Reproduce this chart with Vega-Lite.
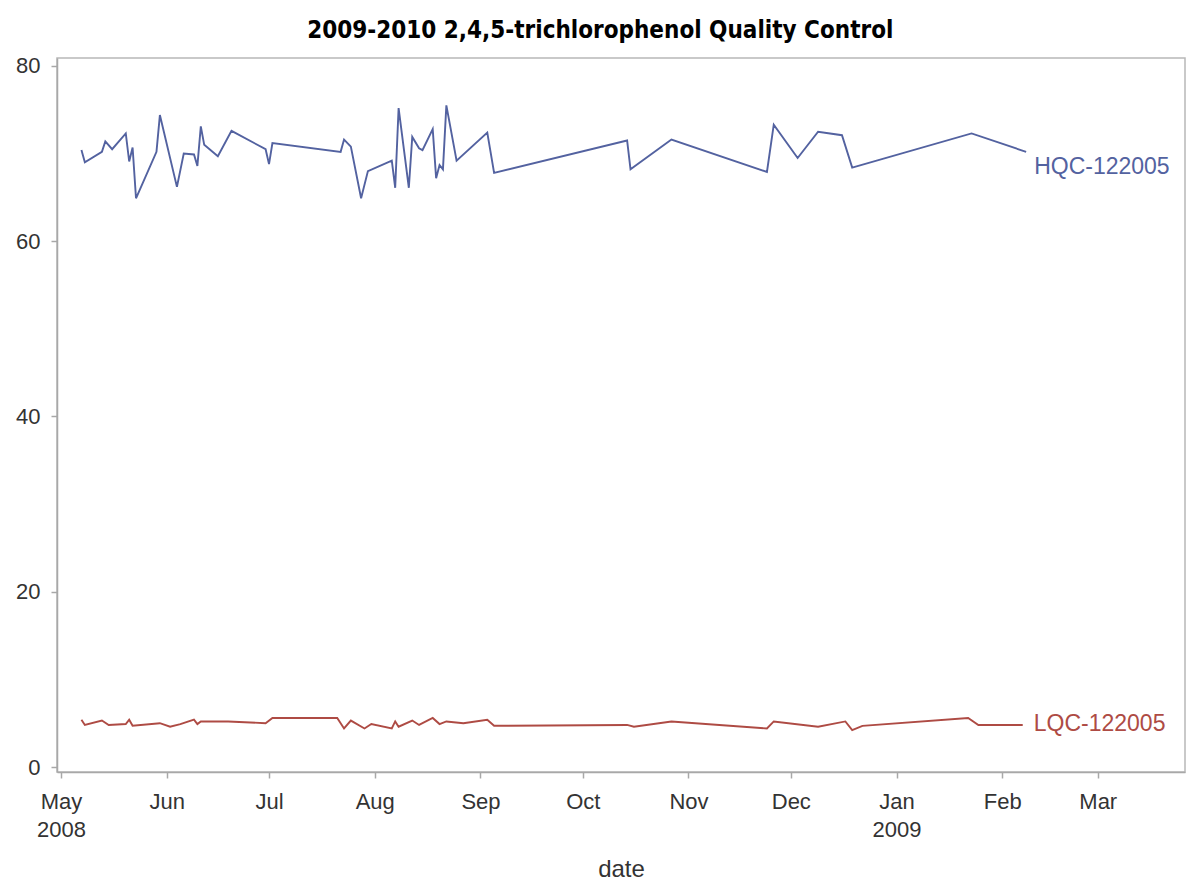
{
  "$schema": "https://vega.github.io/schema/vega-lite/v6.json",
  "autosize": "none",
  "width": 1128,
  "height": 714,
  "padding": {"left": 57, "top": 58, "right": 2, "bottom": 114},
  "background": "white",
  "title": {
    "text": "2009-2010 2,4,5-trichlorophenol Quality Control",
    "font": "Liberation Sans Narrow, DejaVu Sans Condensed, Liberation Sans",
    "fontWeight": "bold",
    "fontSize": 24,
    "color": "#000000",
    "frame": "bounds",
    "anchor": "middle",
    "offset": 12
  },
  "data": {
    "values": [
      {"series": "HQC-122005", "date": "2008-05-07", "value": 70.4},
      {"series": "HQC-122005", "date": "2008-05-08", "value": 69.0},
      {"series": "HQC-122005", "date": "2008-05-13", "value": 70.2},
      {"series": "HQC-122005", "date": "2008-05-14", "value": 71.4},
      {"series": "HQC-122005", "date": "2008-05-16", "value": 70.5},
      {"series": "HQC-122005", "date": "2008-05-20", "value": 72.3},
      {"series": "HQC-122005", "date": "2008-05-21", "value": 69.1},
      {"series": "HQC-122005", "date": "2008-05-22", "value": 70.7},
      {"series": "HQC-122005", "date": "2008-05-23", "value": 64.9},
      {"series": "HQC-122005", "date": "2008-05-29", "value": 70.2},
      {"series": "HQC-122005", "date": "2008-05-30", "value": 74.4},
      {"series": "HQC-122005", "date": "2008-06-04", "value": 66.2},
      {"series": "HQC-122005", "date": "2008-06-06", "value": 70.0},
      {"series": "HQC-122005", "date": "2008-06-09", "value": 69.9},
      {"series": "HQC-122005", "date": "2008-06-10", "value": 68.6},
      {"series": "HQC-122005", "date": "2008-06-11", "value": 73.1},
      {"series": "HQC-122005", "date": "2008-06-12", "value": 71.0},
      {"series": "HQC-122005", "date": "2008-06-16", "value": 69.7},
      {"series": "HQC-122005", "date": "2008-06-20", "value": 72.6},
      {"series": "HQC-122005", "date": "2008-06-30", "value": 70.5},
      {"series": "HQC-122005", "date": "2008-07-01", "value": 68.8},
      {"series": "HQC-122005", "date": "2008-07-02", "value": 71.2},
      {"series": "HQC-122005", "date": "2008-07-22", "value": 70.2},
      {"series": "HQC-122005", "date": "2008-07-23", "value": 71.6},
      {"series": "HQC-122005", "date": "2008-07-25", "value": 70.8},
      {"series": "HQC-122005", "date": "2008-07-28", "value": 64.9},
      {"series": "HQC-122005", "date": "2008-07-30", "value": 68.0},
      {"series": "HQC-122005", "date": "2008-08-06", "value": 69.2},
      {"series": "HQC-122005", "date": "2008-08-07", "value": 66.1},
      {"series": "HQC-122005", "date": "2008-08-08", "value": 75.2},
      {"series": "HQC-122005", "date": "2008-08-11", "value": 66.1},
      {"series": "HQC-122005", "date": "2008-08-12", "value": 71.9},
      {"series": "HQC-122005", "date": "2008-08-14", "value": 70.6},
      {"series": "HQC-122005", "date": "2008-08-15", "value": 70.4},
      {"series": "HQC-122005", "date": "2008-08-18", "value": 72.8},
      {"series": "HQC-122005", "date": "2008-08-19", "value": 67.2},
      {"series": "HQC-122005", "date": "2008-08-20", "value": 68.7},
      {"series": "HQC-122005", "date": "2008-08-21", "value": 68.2},
      {"series": "HQC-122005", "date": "2008-08-22", "value": 75.5},
      {"series": "HQC-122005", "date": "2008-08-25", "value": 69.2},
      {"series": "HQC-122005", "date": "2008-09-03", "value": 72.4},
      {"series": "HQC-122005", "date": "2008-09-05", "value": 67.8},
      {"series": "HQC-122005", "date": "2008-10-14", "value": 71.5},
      {"series": "HQC-122005", "date": "2008-10-15", "value": 68.2},
      {"series": "HQC-122005", "date": "2008-10-27", "value": 71.6},
      {"series": "HQC-122005", "date": "2008-11-24", "value": 67.9},
      {"series": "HQC-122005", "date": "2008-11-26", "value": 73.3},
      {"series": "HQC-122005", "date": "2008-12-03", "value": 69.5},
      {"series": "HQC-122005", "date": "2008-12-09", "value": 72.5},
      {"series": "HQC-122005", "date": "2008-12-16", "value": 72.1},
      {"series": "HQC-122005", "date": "2008-12-19", "value": 68.4},
      {"series": "HQC-122005", "date": "2009-01-23", "value": 72.3},
      {"series": "HQC-122005", "date": "2009-02-08", "value": 70.2},
      {"series": "LQC-122005", "date": "2008-05-07", "value": 5.4},
      {"series": "LQC-122005", "date": "2008-05-08", "value": 4.8},
      {"series": "LQC-122005", "date": "2008-05-13", "value": 5.3},
      {"series": "LQC-122005", "date": "2008-05-15", "value": 4.8},
      {"series": "LQC-122005", "date": "2008-05-20", "value": 4.9},
      {"series": "LQC-122005", "date": "2008-05-21", "value": 5.4},
      {"series": "LQC-122005", "date": "2008-05-22", "value": 4.7},
      {"series": "LQC-122005", "date": "2008-05-30", "value": 5.0},
      {"series": "LQC-122005", "date": "2008-06-02", "value": 4.6},
      {"series": "LQC-122005", "date": "2008-06-05", "value": 4.9},
      {"series": "LQC-122005", "date": "2008-06-09", "value": 5.4},
      {"series": "LQC-122005", "date": "2008-06-10", "value": 4.9},
      {"series": "LQC-122005", "date": "2008-06-11", "value": 5.2},
      {"series": "LQC-122005", "date": "2008-06-19", "value": 5.2},
      {"series": "LQC-122005", "date": "2008-06-30", "value": 5.0},
      {"series": "LQC-122005", "date": "2008-07-02", "value": 5.6},
      {"series": "LQC-122005", "date": "2008-07-21", "value": 5.6},
      {"series": "LQC-122005", "date": "2008-07-23", "value": 4.4},
      {"series": "LQC-122005", "date": "2008-07-25", "value": 5.3},
      {"series": "LQC-122005", "date": "2008-07-29", "value": 4.4},
      {"series": "LQC-122005", "date": "2008-07-31", "value": 4.9},
      {"series": "LQC-122005", "date": "2008-08-06", "value": 4.4},
      {"series": "LQC-122005", "date": "2008-08-07", "value": 5.2},
      {"series": "LQC-122005", "date": "2008-08-08", "value": 4.6},
      {"series": "LQC-122005", "date": "2008-08-12", "value": 5.3},
      {"series": "LQC-122005", "date": "2008-08-14", "value": 4.8},
      {"series": "LQC-122005", "date": "2008-08-18", "value": 5.6},
      {"series": "LQC-122005", "date": "2008-08-20", "value": 4.9},
      {"series": "LQC-122005", "date": "2008-08-22", "value": 5.2},
      {"series": "LQC-122005", "date": "2008-08-27", "value": 5.0},
      {"series": "LQC-122005", "date": "2008-09-03", "value": 5.4},
      {"series": "LQC-122005", "date": "2008-09-05", "value": 4.7},
      {"series": "LQC-122005", "date": "2008-10-14", "value": 4.8},
      {"series": "LQC-122005", "date": "2008-10-16", "value": 4.6},
      {"series": "LQC-122005", "date": "2008-10-27", "value": 5.2},
      {"series": "LQC-122005", "date": "2008-11-24", "value": 4.4},
      {"series": "LQC-122005", "date": "2008-11-26", "value": 5.2},
      {"series": "LQC-122005", "date": "2008-12-09", "value": 4.6},
      {"series": "LQC-122005", "date": "2008-12-17", "value": 5.2},
      {"series": "LQC-122005", "date": "2008-12-19", "value": 4.2},
      {"series": "LQC-122005", "date": "2008-12-22", "value": 4.7},
      {"series": "LQC-122005", "date": "2009-01-22", "value": 5.6},
      {"series": "LQC-122005", "date": "2009-01-25", "value": 4.8},
      {"series": "LQC-122005", "date": "2009-02-07", "value": 4.8}
    ],
    "format": {"parse": {"date": "utc:'%Y-%m-%d'"}}
  },
  "encoding": {
    "x": {
      "field": "date",
      "type": "temporal",
      "scale": {
        "type": "utc",
        "domain": [
          {"year": 2008, "month": "apr", "date": 29, "hours": 20, "utc": true},
          {"year": 2009, "month": "mar", "date": 26, "hours": 14, "utc": true}
        ]
      },
      "axis": {
        "title": "date",
        "values": [
          {"year": 2008, "month": "may", "date": 1, "utc": true},
          {"year": 2008, "month": "jun", "date": 1, "utc": true},
          {"year": 2008, "month": "jul", "date": 1, "utc": true},
          {"year": 2008, "month": "aug", "date": 1, "utc": true},
          {"year": 2008, "month": "sep", "date": 1, "utc": true},
          {"year": 2008, "month": "oct", "date": 1, "utc": true},
          {"year": 2008, "month": "nov", "date": 1, "utc": true},
          {"year": 2008, "month": "dec", "date": 1, "utc": true},
          {"year": 2009, "month": "jan", "date": 1, "utc": true},
          {"year": 2009, "month": "feb", "date": 1, "utc": true},
          {"year": 2009, "month": "mar", "date": 1, "utc": true}
        ],
        "labelExpr": "utcmonth(datum.value) == 0 || (utcyear(datum.value) == 2008 && utcmonth(datum.value) == 4) ? [utcFormat(datum.value, '%b'), utcFormat(datum.value, '%Y')] : utcFormat(datum.value, '%b')",
        "labelPadding": 13,
        "labelLineHeight": 28,
        "titlePadding": 17,
        "titleFontSize": 24,
        "labelFlush": false,
        "labelOverlap": false
      }
    },
    "y": {
      "field": "value",
      "type": "quantitative",
      "scale": {"domain": [-0.57, 80.91], "nice": false, "zero": false},
      "axis": {"title": null, "values": [0, 20, 40, 60, 80], "labelPadding": 11}
    },
    "color": {
      "field": "series",
      "type": "nominal",
      "scale": {"domain": ["HQC-122005", "LQC-122005"], "range": ["#5362A0", "#AE4B44"]},
      "legend": null
    }
  },
  "layer": [
    {"mark": {"type": "line", "strokeWidth": 1.9, "interpolate": "linear"}},
    {
      "transform": [
        {"filter": "datum.series == 'HQC-122005'"},
        {"joinaggregate": [{"op": "max", "field": "date", "as": "maxdate"}]},
        {"filter": "+datum.date == +datum.maxdate"}
      ],
      "mark": {"type": "text", "align": "left", "baseline": "middle", "dx": 8, "dy": 15, "fontSize": 23, "font": "Liberation Sans", "color": "#5A6698"},
      "encoding": {"text": {"field": "series"}}
    },
    {
      "transform": [
        {"filter": "datum.series == 'LQC-122005'"},
        {"joinaggregate": [{"op": "max", "field": "date", "as": "maxdate"}]},
        {"filter": "+datum.date == +datum.maxdate"}
      ],
      "mark": {"type": "text", "align": "left", "baseline": "middle", "dx": 11, "dy": -1, "fontSize": 23, "font": "Liberation Sans", "color": "#A85650"},
      "encoding": {"text": {"field": "series"}}
    }
  ],
  "config": {
    "view": {"stroke": "#B8B8B8", "strokeWidth": 1.5},
    "axis": {
      "grid": false,
      "domainColor": "#A8A8A8",
      "domainWidth": 1.5,
      "tickColor": "#A8A8A8",
      "tickWidth": 1.5,
      "tickSize": 6,
      "labelFont": "Liberation Sans",
      "labelFontSize": 22,
      "labelColor": "#333333",
      "titleFont": "Liberation Sans",
      "titleFontSize": 24,
      "titleFontWeight": "normal",
      "titleColor": "#333333"
    }
  }
}
